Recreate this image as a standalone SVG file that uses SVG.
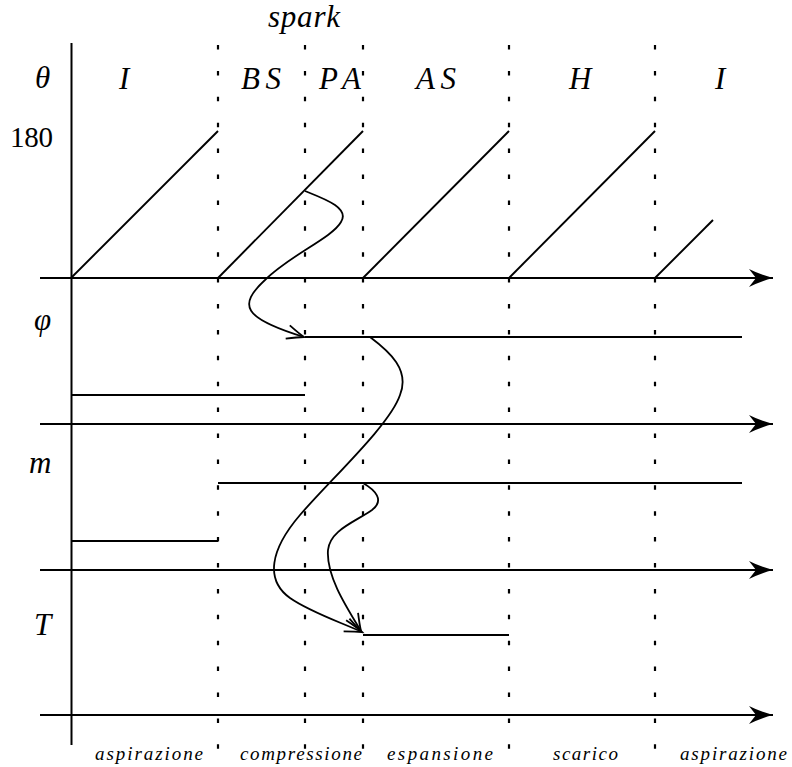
<svg xmlns="http://www.w3.org/2000/svg" width="792" height="767" viewBox="0 0 792 767">
<style>
.ax{stroke:#000;stroke-width:2;fill:none}
.ln{stroke:#000;stroke-width:1.9;fill:none}
.dot{stroke:#000;stroke-width:2.2;stroke-dasharray:4.5 21.4;fill:none}
.cv{stroke:#000;stroke-width:1.8;fill:none}
text{font-family:"Liberation Serif","DejaVu Serif",serif;fill:#000}
.lab{font-style:italic;font-size:31px}
.num{font-size:29px}
.ph{font-style:italic;font-size:19px}
</style>
<defs>
<marker id="axh" markerUnits="userSpaceOnUse" markerWidth="30" markerHeight="22" viewBox="-26 -11 28 22" refX="0" refY="0" orient="auto" overflow="visible">
<path d="M0,0 Q-12,3 -24,9 L-17,0 L-24,-9 Q-12,-3 0,0 Z" fill="#000"/>
</marker>
<marker id="cvh" markerUnits="userSpaceOnUse" markerWidth="30" markerHeight="20" viewBox="-20 -10 22 20" refX="0" refY="0" orient="auto" overflow="visible">
<path d="M-17,-7 Q-6,-2 0,0 Q-6,2 -17,7" fill="none" stroke="#000" stroke-width="1.8"/>
</marker>
</defs>

<g id="grid">
<line class="dot" x1="218" y1="45" x2="218" y2="750"/>
<line class="dot" x1="305" y1="45" x2="305" y2="750"/>
<line class="dot" x1="363" y1="45" x2="363" y2="750"/>
<line class="dot" x1="509" y1="45" x2="509" y2="750"/>
<line class="dot" x1="655" y1="45" x2="655" y2="750"/>
</g>

<g id="axes">
<line class="ax" x1="71.5" y1="43" x2="71.5" y2="745" stroke-width="2.2"/>
<line class="ax" x1="40" y1="278" x2="773" y2="278" marker-end="url(#axh)"/>
<line class="ax" x1="40" y1="424" x2="773" y2="424" marker-end="url(#axh)"/>
<line class="ax" x1="40" y1="570" x2="773" y2="570" marker-end="url(#axh)"/>
<line class="ax" x1="40" y1="715" x2="773" y2="715" marker-end="url(#axh)"/>
</g>

<g id="theta">
<line class="ln" x1="71" y1="278" x2="218" y2="131"/>
<line class="ln" x1="218" y1="278" x2="363" y2="131"/>
<line class="ln" x1="363" y1="278" x2="509" y2="131"/>
<line class="ln" x1="509" y1="278" x2="655" y2="131"/>
<line class="ln" x1="655" y1="278" x2="713" y2="220"/>
</g>

<g id="phi">
<line class="ln" x1="305" y1="337" x2="742" y2="337"/>
<line class="ln" x1="71" y1="395" x2="305" y2="395"/>
</g>

<g id="mass">
<line class="ln" x1="218" y1="483" x2="742" y2="483"/>
<line class="ln" x1="71" y1="541" x2="218" y2="541"/>
</g>

<g id="temp">
<line class="ln" x1="363" y1="635" x2="509" y2="635"/>
</g>

<g id="connectors">
<path class="cv" d="M305,191 C325,199 350,208 341,222 C332,238 290,255 265,280 C238,305 242,318 304,337" marker-end="url(#cvh)"/>
<path class="cv" d="M370,337 C390,352 410,370 400,395 C390,425 330,480 300,515 C270,550 265,580 290,598 C310,612 340,622 362,632" marker-end="url(#cvh)"/>
<path class="cv" d="M363,483 C375,490 385,500 372,510 C355,522 330,530 328,550 C326,575 345,605 361,631" marker-end="url(#cvh)"/>
</g>

<g id="labels">
<text class="lab" x="35" y="88">θ</text>
<text class="lab" x="119" y="89">I</text>
<text class="lab" x="241" y="89" textLength="40" lengthAdjust="spacing">BS</text>
<text class="lab" x="319" y="89" textLength="42" lengthAdjust="spacing">PA</text>
<text class="lab" x="416" y="89" textLength="40" lengthAdjust="spacing">AS</text>
<text class="lab" x="569" y="89">H</text>
<text class="lab" x="715" y="89">I</text>
<text class="lab" x="268" y="27" textLength="72" lengthAdjust="spacing">spark</text>
<text class="num" x="10" y="147" textLength="43" lengthAdjust="spacing">180</text>
<text class="lab" x="34" y="330">φ</text>
<text class="lab" x="29" y="473">m</text>
<text class="lab" x="34" y="635">T</text>
</g>

<g id="phases">
<text class="ph" x="95" y="760" textLength="108" lengthAdjust="spacing">aspirazione</text>
<text class="ph" x="240" y="760" textLength="122" lengthAdjust="spacing">compressione</text>
<text class="ph" x="387" y="760" textLength="106" lengthAdjust="spacing">espansione</text>
<text class="ph" x="553" y="760" textLength="65" lengthAdjust="spacing">scarico</text>
<text class="ph" x="680" y="760" textLength="107" lengthAdjust="spacing">aspirazione</text>
</g>
</svg>
